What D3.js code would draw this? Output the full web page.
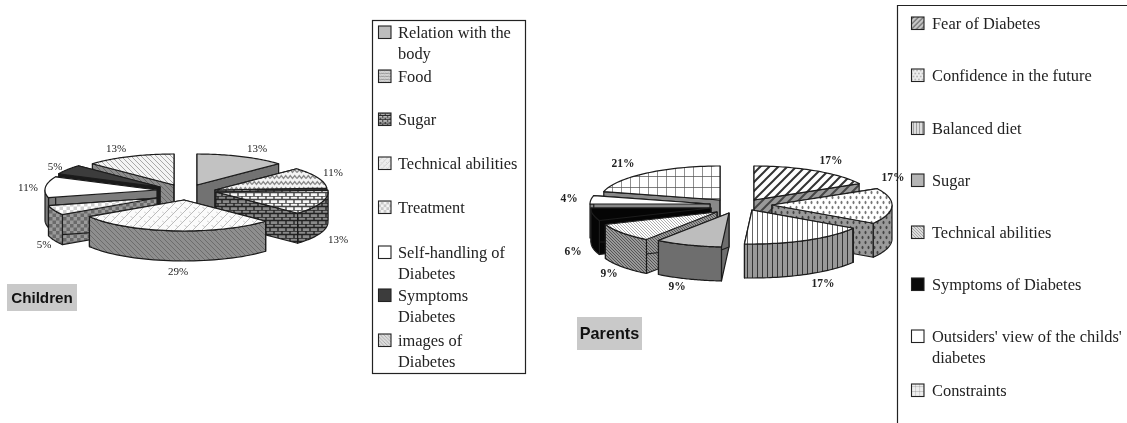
<!DOCTYPE html>
<html><head><meta charset="utf-8">
<script src="https://cdn.jsdelivr.net/npm/d3@7"></script>
<style>html,body{margin:0;padding:0;background:#fff}svg{display:block;filter:blur(.55px)}</style>
</head><body><div id="c"></div>
<script>
// DATA
const childCategories=["Relation with the body","Food","Sugar","Technical abilities","Treatment","Self-handling of Diabetes","Symptoms Diabetes","images of Diabetes"];
const childValues=[13,11,13,29,5,11,5,13];
const parentCategories=["Fear of Diabetes","Confidence in the future","Balanced diet","Sugar","Technical abilities","Symptoms of Diabetes","Outsiders' view of the childs' diabetes","Constraints"];
const parentValues=[17,17,17,9,9,6,4,21];
const childLegendLines=[["Relation with the","body"],["Food"],["Sugar"],["Technical abilities"],["Treatment"],["Self-handling of","Diabetes"],["Symptoms","Diabetes"],["images of","Diabetes"]];
const parentLegendLines=[["Fear of Diabetes"],["Confidence in the future"],["Balanced diet"],["Sugar"],["Technical abilities"],["Symptoms of Diabetes"],["Outsiders' view of the childs'","diabetes"],["Constraints"]];

// LAYOUT / STYLE
const W=1127,H=423;
const svg=d3.select("#c").append("svg").attr("width",W).attr("height",H).attr("viewBox",[0,0,W,H]);
svg.append("rect").attr("width",W).attr("height",H).attr("fill","#fff");
const defs=svg.append("defs");
function pat(id,kind,bg,fg,scale=1){
  const sizes={zig:[9,6],brick:[8,7],weave:[9,9],hatch:[5,5],fine:[3,3],check:[7,7],wide:[9,9],vert:[5,5],dots:[6,10],grid:[9,11],solid:[4,4]};
  const [w,h]=sizes[kind];
  const p=defs.append("pattern").attr("id",id).attr("patternUnits","userSpaceOnUse").attr("width",w).attr("height",h)
    .attr("patternTransform",`scale(${scale})`);
  p.append("rect").attr("width",w).attr("height",h).attr("fill",bg);
  const ln=(d,sw)=>p.append("path").attr("d",d).attr("fill","none").attr("stroke",fg).attr("stroke-width",sw);
  if(kind==="zig")ln("M0,4.5L2.25,1.5L4.5,4.5L6.75,1.5L9,4.5",1.3);
  if(kind==="brick"){ln("M0,0H8M0,3.5H8",1.4);ln("M2,0V3.5M6,3.5V7",1.4);}
  if(kind==="weave"){ln("M0,9L9,0M-2,2L2,-2M7,11L11,7",1);ln("M0,4.5L2,6.5M4.5,0L6.5,2",.8);}
  if(kind==="hatch")ln("M0,0L5,5M-1,4L1,6M4,-1L6,1",1);
  if(kind==="fine")ln("M0,0L3,3M-1,2L1,4M2,-1L4,1",.8);
  if(kind==="check"){p.append("rect").attr("width",3.5).attr("height",3.5).attr("fill",fg);p.append("rect").attr("x",3.5).attr("y",3.5).attr("width",3.5).attr("height",3.5).attr("fill",fg);}
  if(kind==="wide")ln("M0,9L9,0M-2,2L2,-2M7,11L11,7",2);
  if(kind==="vert")ln("M2.5,0V5",1);
  if(kind==="dots"){p.append("ellipse").attr("cx",1.5).attr("cy",2.5).attr("rx",1).attr("ry",1.7).attr("fill",fg);p.append("ellipse").attr("cx",4.5).attr("cy",7.5).attr("rx",1).attr("ry",1.7).attr("fill",fg);}
  if(kind==="grid")ln("M0,0H9M0,0V11",1.3);
  return `url(#${id})`;
}
const childStyle=[
 {top:["solid","#c2c2c2","#c2c2c2"],wall:["solid","#727272","#727272"]},
 {top:["zig","#f4f4f4","#8a8a8a"],wall:["brick","#888","#333"]},
 {top:["brick","#f6f6f6","#444"],wall:["brick","#8a8a8a","#222"]},
 {top:["weave","#fbfbfb","#bbb"],wall:["hatch","#8e8e8e","#6c6c6c"]},
 {top:["check","#fff","#d0d0d0"],wall:["check","#9a9a9a","#6a6a6a"]},
 {top:["solid","#fff","#fff"],wall:["solid","#7c7c7c","#7c7c7c"]},
 {top:["solid","#3c3c3c","#3c3c3c"],wall:["solid","#1a1a1a","#1a1a1a"]},
 {top:["hatch","#f4f4f4","#a8a8a8"],wall:["hatch","#8c8c8c","#666"]}];
const parentStyle=[
 {top:["wide","#fff","#333"],wall:["wide","#999","#444"]},
 {top:["dots","#fff","#777"],wall:["dots","#9a9a9a","#444"]},
 {top:["vert","#fff","#666"],wall:["vert","#999","#333"]},
 {top:["solid","#bdbdbd","#bdbdbd"],wall:["solid","#6e6e6e","#6e6e6e"]},
 {top:["fine","#fff","#999"],wall:["fine","#999","#444"]},
 {top:["solid","#050505","#050505"],wall:["solid","#050505","#050505"]},
 {top:["solid","#fff","#fff"],wall:["solid","#888","#888"]},
 {top:["grid","#fff","#555"],wall:["solid","#888","#888"]}];
// swatch looks: greyer and finer than the slices they stand for
const childSwatch=[
 ["solid","#bcbcbc","#bcbcbc"],["zig","#d8d8d8","#777",.5],["brick","#bbb","#222",.6],["weave","#eee","#bbb",.6],
 ["check","#f4f4f4","#c8c8c8",.8],["solid","#fff","#fff"],["solid","#3c3c3c","#3c3c3c"],["hatch","#ddd","#999",.7]];
const parentSwatch=[
 ["wide","#ccc","#555",.55],["dots","#eee","#999",.6],["vert","#ddd","#777",.6],["solid","#b5b5b5","#b5b5b5"],
 ["fine","#ddd","#999"],["solid","#0a0a0a","#0a0a0a"],["solid","#fff","#fff"],["grid","#eee","#777",.45]];

// exploded apex of every slice, and label centres (layout only)
const childApex=[[197,185],[215,190],[216,192],[184,200],[157,198],[157,190],[160,187],[174,185]];
const parentApex=[[754,200],[772,205],[752,210],[729,213],[717,212],[711,208],[710,204],[720,200]];
const childLabels=[[257,148],[333,172],[338,239],[178,271],[44,244],[28,187],[55,166],[116,148]];
const parentLabels=[[831,160],[893,177],[823,283],[677,286],[609,273],[573,251],[569,198],[623,163]];

function pie3d(id,values,styles,apex,labels,o){
  const g=svg.append("g");
  const arcs=d3.pie().sort(null).value(d=>d)(values);
  const line=d3.line();
  const slices=arcs.map((a,i)=>({...a,i,mid:(a.startAngle+a.endAngle)/2}));
  slices.sort((p,q)=>d3.descending(Math.cos(p.mid),Math.cos(q.mid)));
  slices.forEach(s=>{
    const [cx,cy]=apex[s.i],st=styles[s.i];
    const P=(a,dz=0)=>[cx+o.rx*Math.sin(a),cy-o.ry*Math.cos(a)+dz];
    const sweep=(a0,a1,dz)=>d3.range(0,41).map(k=>P(a0+(a1-a0)*k/40,dz));
    const wallFill=pat(`${id}w${s.i}`,...st.wall), topFill=pat(`${id}t${s.i}`,...st.top);
    const sg=g.append("g").attr("stroke","#1c1c1c").attr("stroke-width",1.2).attr("stroke-linejoin","round");
    [s.startAngle,s.endAngle].forEach(a=>{
      sg.append("path").attr("fill",wallFill)
        .attr("d",line([[cx,cy],P(a),P(a,o.h),[cx,cy+o.h]])+"Z");
    });
    const v0=Math.max(s.startAngle,Math.PI/2),v1=Math.min(s.endAngle,3*Math.PI/2);
    if(v1>v0){
      sg.append("path").attr("fill",wallFill)
        .attr("d",line([...sweep(v0,v1,0),...sweep(v1,v0,o.h)])+"Z");
    }
    sg.append("path").attr("fill",topFill)
      .attr("d",line([[cx,cy],...sweep(s.startAngle,s.endAngle,0)])+"Z");
  });
  g.selectAll("text.v").data(values).join("text").attr("class","v")
    .attr("x",(d,i)=>labels[i][0]).attr("y",(d,i)=>labels[i][1]+4)
    .attr("text-anchor","middle").attr("font-family","'Liberation Serif',serif")
    .attr("font-size",o.fs).attr("font-weight",o.fw).attr("fill","#222").text(d=>d+"%");
}
pie3d("c",childValues,childStyle,childApex,childLabels,{rx:112,ry:31,h:30,fs:11,fw:"normal"});
pie3d("p",parentValues,parentStyle,parentApex,parentLabels,{rx:120,ry:34,h:34,fs:11.5,fw:"bold"});

function legend(lines,swatches,id,baselines,textX,swatchX){
  const g=svg.append("g");
  lines.forEach((ls,i)=>{
    const y0=baselines[i];
    g.append("rect").attr("x",swatchX).attr("y",y0-12).attr("width",12.5).attr("height",12.5)
      .attr("fill",pat(`${id}L${i}`,...swatches[i])).attr("stroke","#222").attr("stroke-width",1.1);
    ls.forEach((t,k)=>g.append("text").attr("x",textX).attr("y",y0+k*20.5)
      .attr("font-family","'Liberation Serif',serif").attr("font-size",16.4).attr("fill","#222").text(t));
  });
}
// left legend frame
svg.append("rect").attr("x",372.5).attr("y",20.5).attr("width",153).attr("height",353).attr("fill","#fff").attr("stroke","#222").attr("stroke-width",1.2);
legend(childLegendLines,childSwatch,"cl",[38,82,125,169,213,258,301,346],398,378.5);
// right legend frame (cut by the page edge)
svg.append("path").attr("d","M1127,5.5H897.5V423").attr("fill","none").attr("stroke","#222").attr("stroke-width",1.2);
legend(parentLegendLines,parentSwatch,"pl",[29,81,134,186,238,290,342,396],932,911.5);

// panel titles
const titles=[{t:"Children",x:7,y:284,w:70,h:27,fs:15.2},{t:"Parents",x:577,y:317,w:65,h:33,fs:16.2}];
titles.forEach(d=>{
  svg.append("rect").attr("x",d.x).attr("y",d.y).attr("width",d.w).attr("height",d.h).attr("fill","#c9c9c9");
  svg.append("text").attr("x",d.x+d.w/2).attr("y",d.y+d.h/2+5).attr("text-anchor","middle")
    .attr("font-family","'Liberation Sans',Arial,sans-serif").attr("font-weight","bold").attr("font-size",d.fs).attr("fill","#111").text(d.t);
});
</script></body></html>
